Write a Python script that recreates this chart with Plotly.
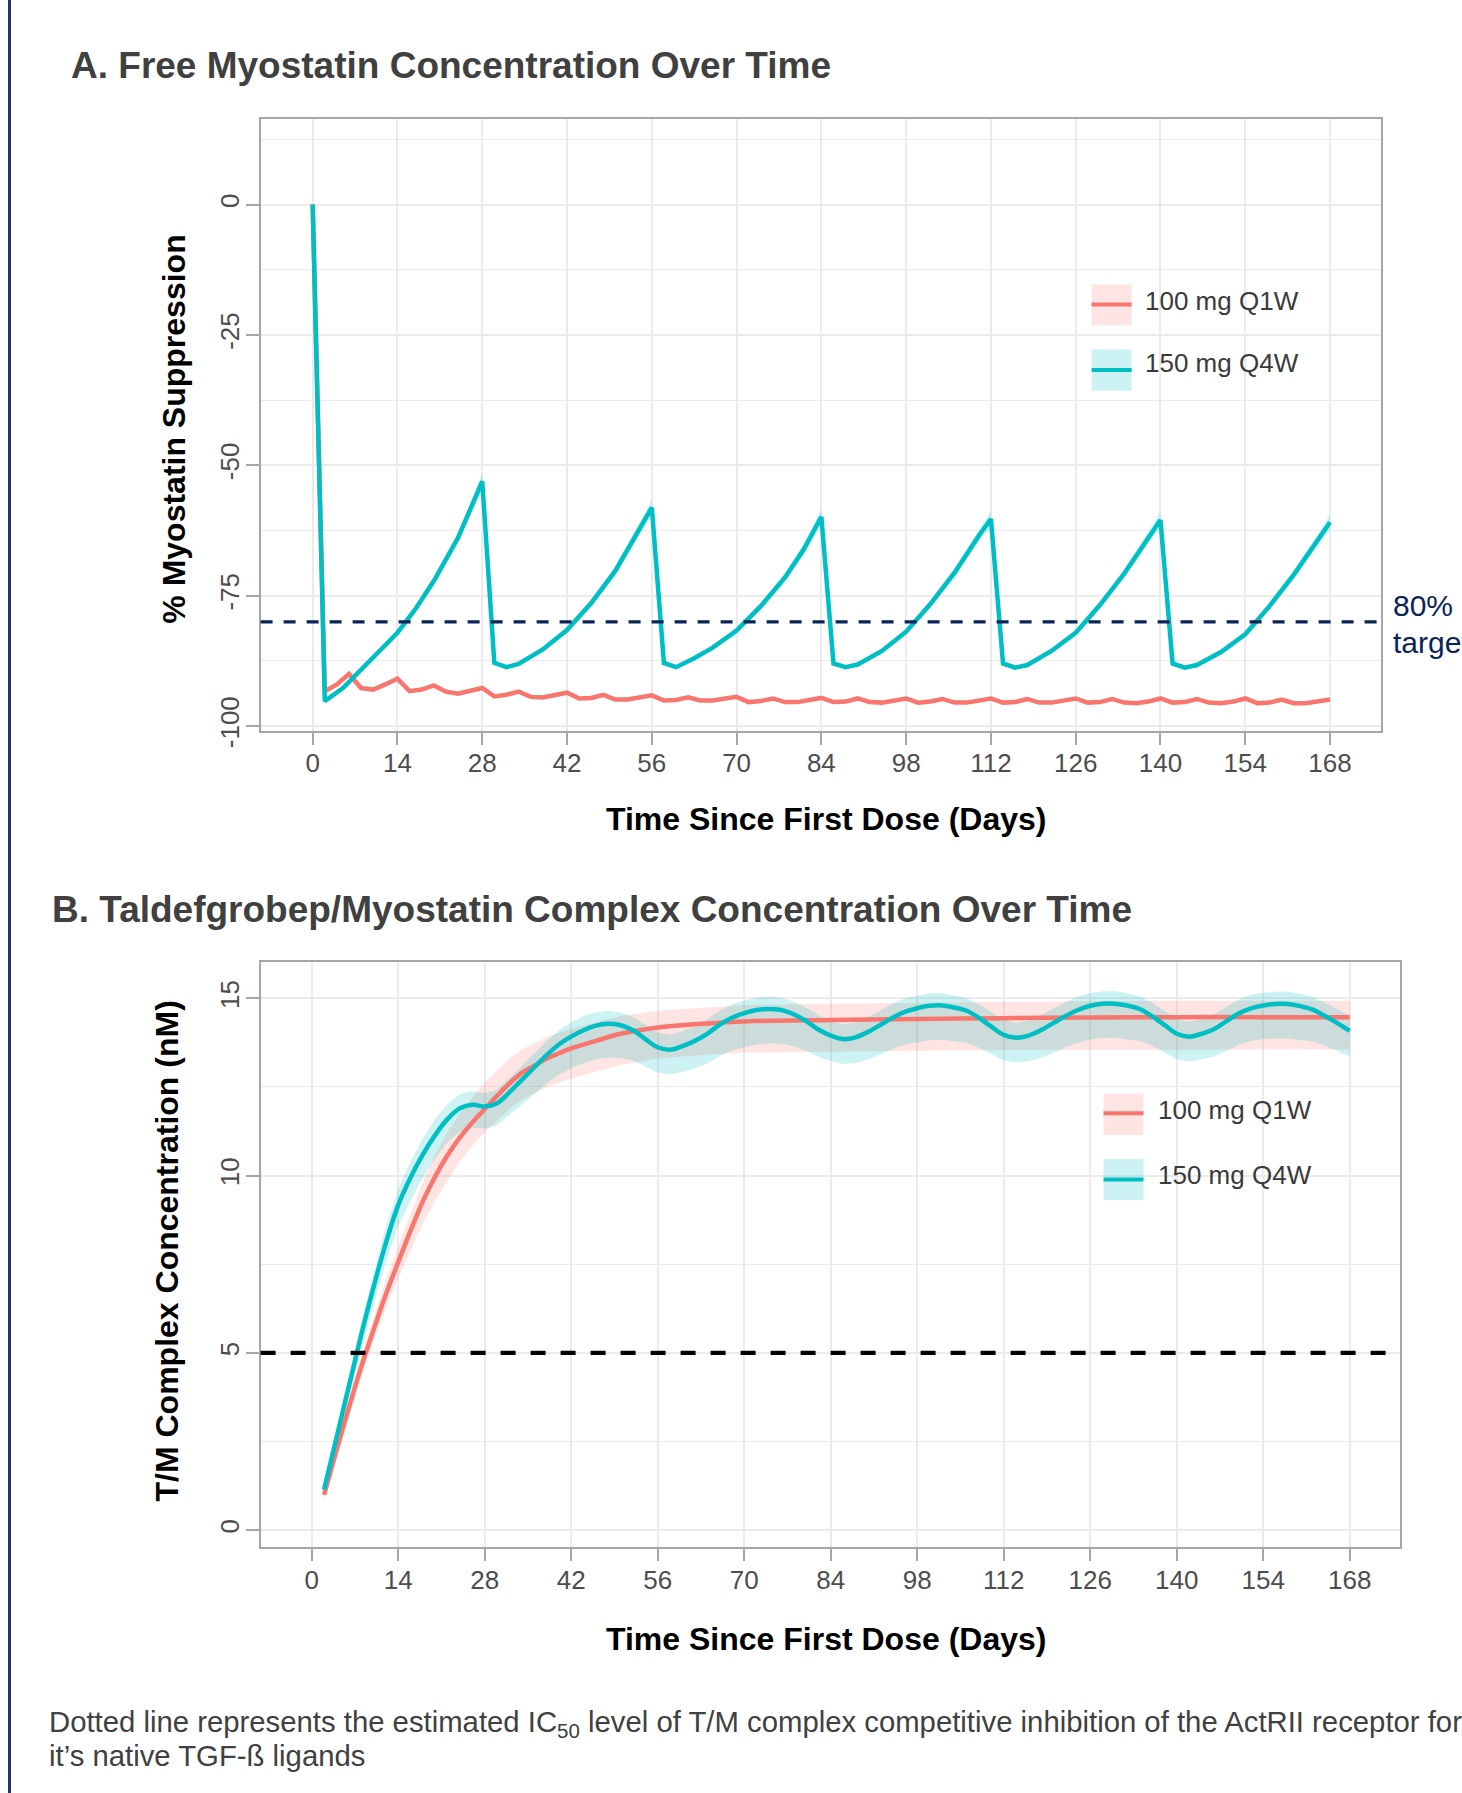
import plotly.graph_objects as go

W, H = 1462, 1793          # target picture size (paper mapping)
H_FIG = 1814               # page height that is captured into the 1793-px picture
FONT = "Liberation Sans, Arial, Helvetica, sans-serif"
RED = "#F8766D"
CYAN = "#00BFC4"
RED_FILL = "rgba(248,118,109,0.2)"
CYAN_FILL = "rgba(0,191,196,0.2)"
NAVY = "#0A2457"


def px(x):
    return x / W


def py(y):
    return 1 - y / H


# ---------------- Panel A data: % Myostatin suppression ----------------
x_ticks = [0, 14, 28, 42, 56, 70, 84, 98, 112, 126, 140, 154, 168]
a_y_ticks = [0, -25, -50, -75, -100]
b_y_ticks = [0, 5, 10, 15]

a_cyan_days = [0, 2, 5, 7, 10, 14, 17, 20, 24, 26, 28,
               30, 32, 34, 38, 42, 46, 50, 53, 56,
               58, 60, 63, 66, 70, 74, 78, 81, 84,
               86, 88, 90, 94, 98, 102, 106, 110, 112,
               114, 116, 118, 122, 126, 130, 134, 138, 140,
               142, 144, 146, 150, 154, 158, 162, 166, 168]
a_cyan_vals = [0, -95.2, -92.7, -90.4, -86.9, -82.1, -77.5, -72.2, -63.9, -58.7, -53.1,
               -87.9, -88.7, -88.1, -85.3, -81.6, -76.4, -70.2, -64.2, -58.1,
               -87.9, -88.7, -87.0, -85.0, -81.7, -77.0, -71.5, -66.3, -59.9,
               -88.0, -88.7, -88.2, -85.6, -81.9, -76.6, -70.6, -63.5, -60.3,
               -88.0, -88.8, -88.3, -85.6, -82.1, -76.8, -70.8, -63.8, -60.5,
               -88.0, -88.8, -88.3, -85.8, -82.4, -77.0, -71.0, -64.3, -60.9]
a_cyan_band = [0.0, 0.3, 0.35, 0.4, 0.5, 0.6, 0.7, 0.85, 1.1, 1.3, 1.6,
               0.35, 0.35, 0.4, 0.5, 0.6, 0.75, 0.95, 1.15, 1.5,
               0.35, 0.35, 0.4, 0.5, 0.6, 0.75, 0.95, 1.15, 1.5,
               0.35, 0.35, 0.4, 0.5, 0.6, 0.75, 0.95, 1.15, 1.5,
               0.35, 0.35, 0.4, 0.5, 0.6, 0.75, 0.95, 1.15, 1.5,
               0.35, 0.35, 0.4, 0.5, 0.6, 0.75, 0.95, 1.15, 1.5]

a_red_days = list(range(0, 169, 2))
a_red_vals = [0, -93.3, -92.0, -90.0, -92.7, -93.0, -92.0, -90.9, -93.3, -93.0,
              -92.2, -93.4, -93.8, -93.3, -92.7, -94.3, -94.0, -93.4, -94.4, -94.5,
              -94.1, -93.6, -94.7, -94.6, -94.0, -94.9, -94.9, -94.6, -94.1, -95.1,
              -95.0, -94.5, -95.1, -95.1, -94.8, -94.4, -95.4, -95.2, -94.7, -95.4,
              -95.4, -95.0, -94.6, -95.4, -95.3, -94.7, -95.4, -95.5, -95.2, -94.7,
              -95.5, -95.3, -94.8, -95.5, -95.5, -95.2, -94.7, -95.5, -95.4, -94.8,
              -95.5, -95.5, -95.2, -94.7, -95.5, -95.4, -94.8, -95.5, -95.6, -95.3,
              -94.7, -95.5, -95.4, -94.8, -95.5, -95.6, -95.3, -94.7, -95.6, -95.5,
              -94.9, -95.6, -95.6, -95.3, -94.9]

a_target = -80

# ---------------- Panel B data: T/M complex concentration ----------------
b_cyan_days = list(range(2, 169, 2))
b_cyan_vals = [1.15, 2.6, 4.05, 5.5, 6.85, 8.1, 9.17, 9.95, 10.6, 11.15,
               11.6, 11.9, 12.0, 11.95, 12.04, 12.35, 12.7, 13.05, 13.4, 13.7,
               13.92, 14.1, 14.23, 14.28, 14.24, 14.1, 13.85, 13.62, 13.55, 13.65,
               13.8, 14.0, 14.25, 14.45, 14.58, 14.67, 14.70, 14.67, 14.55, 14.36,
               14.12, 13.95, 13.85, 13.9, 14.05, 14.25, 14.45, 14.62, 14.72, 14.79,
               14.80, 14.74, 14.65, 14.45, 14.2, 13.97, 13.89, 13.95, 14.1, 14.3,
               14.5, 14.67, 14.79, 14.85, 14.85, 14.8, 14.7, 14.5, 14.25, 14.0,
               13.92, 14.0, 14.13, 14.35, 14.57, 14.72, 14.8, 14.84, 14.84, 14.78,
               14.68, 14.5, 14.3, 14.08]
b_cyan_up = [0.1, 0.2, 0.3, 0.35, 0.4, 0.45, 0.45, 0.45, 0.45, 0.45,
             0.42, 0.4, 0.38, 0.38, 0.38, 0.4, 0.4, 0.4, 0.4, 0.4,
             0.4, 0.4, 0.38, 0.36, 0.36, 0.38, 0.4, 0.42, 0.42, 0.42,
             0.42, 0.41, 0.4, 0.38, 0.36, 0.35, 0.35, 0.35, 0.36, 0.38,
             0.4, 0.42, 0.42, 0.42, 0.42, 0.41, 0.4, 0.38, 0.36, 0.35,
             0.35, 0.35, 0.36, 0.38, 0.4, 0.42, 0.42, 0.42, 0.42, 0.41,
             0.4, 0.38, 0.36, 0.35, 0.35, 0.35, 0.36, 0.38, 0.4, 0.42,
             0.42, 0.42, 0.42, 0.41, 0.4, 0.38, 0.36, 0.35, 0.35, 0.35,
             0.36, 0.38, 0.4, 0.42]
b_cyan_dn = [0.15, 0.25, 0.35, 0.45, 0.5, 0.55, 0.6, 0.65, 0.65, 0.65,
             0.65, 0.65, 0.65, 0.62, 0.62, 0.65, 0.7, 0.75, 0.8, 0.85,
             0.9, 0.92, 0.95, 0.95, 0.92, 0.85, 0.78, 0.72, 0.7, 0.72,
             0.78, 0.84, 0.88, 0.92, 0.95, 0.97, 0.97, 0.95, 0.9, 0.84,
             0.77, 0.72, 0.7, 0.72, 0.78, 0.84, 0.88, 0.92, 0.95, 0.97,
             0.97, 0.95, 0.9, 0.84, 0.77, 0.72, 0.7, 0.72, 0.78, 0.84,
             0.88, 0.92, 0.95, 0.97, 0.97, 0.95, 0.9, 0.84, 0.77, 0.72,
             0.7, 0.72, 0.78, 0.84, 0.88, 0.92, 0.95, 0.97, 0.97, 0.95,
             0.9, 0.84, 0.78, 0.72]

b_red_days = [2, 4, 6, 8, 10, 12, 14, 16, 18, 20, 22, 24, 26, 28, 30, 32, 34, 36, 38, 40, 42,
              46, 50, 56, 63, 70, 84, 98, 112, 126, 140, 154, 168]
b_red_vals = [1.0, 2.25, 3.45, 4.6, 5.65, 6.65, 7.56, 8.45, 9.28, 9.98, 10.58, 11.08, 11.5,
              11.88, 12.25, 12.6, 12.9, 13.1, 13.3, 13.45, 13.59,
              13.8, 14.0, 14.18, 14.28, 14.35, 14.39, 14.42, 14.44, 14.46, 14.47, 14.47, 14.47]
b_red_up = [0.1, 0.18, 0.25, 0.3, 0.35, 0.4, 0.45, 0.5, 0.55, 0.6, 0.65, 0.68, 0.72, 0.75,
            0.72, 0.7, 0.65, 0.62, 0.6, 0.57, 0.55,
            0.52, 0.5, 0.47, 0.46, 0.46, 0.46, 0.46, 0.46, 0.46, 0.46, 0.46, 0.46]
b_red_dn = [0.15, 0.22, 0.28, 0.3, 0.33, 0.38, 0.45, 0.55, 0.62, 0.68, 0.7, 0.68, 0.66, 0.66,
            0.7, 0.72, 0.75, 0.78, 0.8, 0.83, 0.85,
            0.87, 0.88, 0.88, 0.88, 0.88, 0.9, 0.9, 0.9, 0.91, 0.91, 0.91, 0.91]

b_ic50 = 5

series_names = ["100 mg Q1W", "150 mg Q4W"]


def band(days, lo, hi, color, xa, ya):
    return go.Scatter(x=list(days) + list(days)[::-1], y=list(hi) + list(lo)[::-1],
                      fill="toself", fillcolor=color, line=dict(width=0), mode="lines",
                      hoverinfo="skip", showlegend=False, xaxis=xa, yaxis=ya)


fig = go.Figure()

# Panel A
fig.add_trace(band(a_cyan_days,
                   [v - b for v, b in zip(a_cyan_vals, a_cyan_band)],
                   [v + b for v, b in zip(a_cyan_vals, a_cyan_band)],
                   CYAN_FILL, "x", "y"))
fig.add_trace(go.Scatter(x=a_red_days, y=a_red_vals, mode="lines", name=series_names[0],
                         line=dict(color=RED, width=4.5), xaxis="x", yaxis="y"))
fig.add_trace(go.Scatter(x=a_cyan_days, y=a_cyan_vals, mode="lines", name=series_names[1],
                         line=dict(color=CYAN, width=4.5), xaxis="x", yaxis="y"))

# Panel B
fig.add_trace(band(b_red_days,
                   [v - d for v, d in zip(b_red_vals, b_red_dn)],
                   [v + u for v, u in zip(b_red_vals, b_red_up)],
                   RED_FILL, "x2", "y2"))
fig.add_trace(band(b_cyan_days,
                   [v - d for v, d in zip(b_cyan_vals, b_cyan_dn)],
                   [v + u for v, u in zip(b_cyan_vals, b_cyan_up)],
                   CYAN_FILL, "x2", "y2"))
fig.add_trace(go.Scatter(x=b_red_days, y=b_red_vals, mode="lines", name=series_names[0],
                         line=dict(color=RED, width=4.5, shape="spline"), xaxis="x2", yaxis="y2"))
fig.add_trace(go.Scatter(x=b_cyan_days, y=b_cyan_vals, mode="lines", name=series_names[1],
                         line=dict(color=CYAN, width=4.5, shape="spline"), xaxis="x2", yaxis="y2"))


def axis_common():
    return dict(showline=True, mirror=True, linecolor="#A6A6A6", linewidth=1.5,
                ticks="outside", ticklen=13, tickwidth=1.5, tickcolor="#A6A6A6",
                ticklabelstandoff=-4,
                showgrid=True, gridcolor="#EBEBEB", gridwidth=1.5, zeroline=False,
                tickfont=dict(size=26, color="#4D4D4D", family=FONT))


xa = axis_common()
xa.update(domain=[px(260.6), px(1380.9)], range=[-8.6, 176.4], tickmode="array",
          tickvals=x_ticks, ticktext=[str(t) for t in x_ticks], anchor="y")
ya = axis_common()
ya.update(domain=[py(729.3), py(118.9)], range=[-100.85, 16.38], tickmode="array",
          tickvals=a_y_ticks, ticktext=[str(t) for t in a_y_ticks], tickangle=-90, anchor="x",
          minor=dict(dtick=12.5, tick0=0, showgrid=True, gridcolor="#EBEBEB", gridwidth=1, ticks=""))
xb = axis_common()
xb.update(domain=[px(260.6), px(1400.3)], range=[-8.27, 176.18], tickmode="array",
          tickvals=x_ticks, ticktext=[str(t) for t in x_ticks], anchor="y2")
yb = axis_common()
yb.update(domain=[py(1544), py(960.2)], range=[-0.46, 16.03], tickmode="array",
          tickvals=b_y_ticks, ticktext=[str(t) for t in b_y_ticks], tickangle=-90, anchor="x2",
          minor=dict(dtick=2.5, tick0=0, showgrid=True, gridcolor="#EBEBEB", gridwidth=1, ticks=""))

shapes = [
    # left navy rule
    dict(type="line", xref="paper", yref="paper", x0=px(9.5), x1=px(9.5), y0=0, y1=1,
         line=dict(color="#203864", width=3)),
    # 80% target dashed line
    dict(type="line", xref="x domain", yref="y", x0=0, x1=1, y0=a_target, y1=a_target,
         line=dict(color=NAVY, width=3.3, dash="12px,11px")),
    # IC50 dashed line
    dict(type="line", xref="x2 domain", yref="y2", x0=0, x1=1, y0=b_ic50, y1=b_ic50,
         line=dict(color="black", width=4.3, dash="15px,15px")),
]

annotations = []


def text(x, y, s, size, color, bold=False, xanchor="left", angle=0):
    annotations.append(dict(x=px(x), y=py(y), xref="paper", yref="paper", text=s,
                            showarrow=False, xanchor=xanchor, yanchor="middle",
                            textangle=angle,
                            font=dict(family=FONT, size=size, color=color,
                                      weight="bold" if bold else "normal")))


def legend_key(x0, y0, y_line, fill, color):
    shapes.append(dict(type="rect", xref="paper", yref="paper", x0=px(x0), x1=px(x0 + 40),
                       y0=py(y0 + 41), y1=py(y0), fillcolor=fill, line=dict(width=0)))
    shapes.append(dict(type="line", xref="paper", yref="paper", x0=px(x0), x1=px(x0 + 40),
                       y0=py(y_line), y1=py(y_line), line=dict(color=color, width=4)))


# Legend A
legend_key(1091.6, 284, 304, RED_FILL, RED)
legend_key(1091.6, 349, 369.3, CYAN_FILL, CYAN)
text(1143, 300, series_names[0], 26, "#3A3A3A")
text(1143, 362.5, series_names[1], 26, "#3A3A3A")
# Legend B
legend_key(1103.5, 1092, 1111.5, RED_FILL, RED)
legend_key(1103.5, 1157, 1177.5, CYAN_FILL, CYAN)
text(1156, 1108.5, series_names[0], 26, "#3A3A3A")
text(1156, 1173.5, series_names[1], 26, "#3A3A3A")

# Titles
text(68.6, 65.3, "A. Free Myostatin Concentration Over Time", 37, "#404040", bold=True)
text(50, 908, "B. Taldefgrobep/Myostatin Complex Concentration Over Time", 37, "#404040", bold=True)

# Axis titles
text(826, 817.5, "Time Since First Dose (Days)", 32, "black", bold=True, xanchor="center")
text(174, 429, "% Myostatin Suppression", 32, "black", bold=True, xanchor="center", angle=-90)
text(826, 1636, "Time Since First Dose (Days)", 32, "black", bold=True, xanchor="center")
text(167, 1249.4, "T/M Complex Concentration (nM)", 32, "black", bold=True, xanchor="center", angle=-90)

# Target label
text(1391, 604, "80%", 30, NAVY)
text(1391, 641, "target", 30, NAVY)

# Caption
text(47, 1720.5, "Dotted line represents the estimated IC<sub>50</sub> level of T/M complex competitive "
     "inhibition of the ActRII receptor for", 29.3, "#404040")
text(47, 1753, "it\u2019s native TGF-\u00df ligands", 29.3, "#404040")

fig.update_layout(width=W, height=H_FIG, margin=dict(l=0, r=0, t=0, b=0),
                  paper_bgcolor="white", plot_bgcolor="white", showlegend=False,
                  font=dict(family=FONT),
                  xaxis=xa, yaxis=ya, xaxis2=xb, yaxis2=yb,
                  shapes=shapes, annotations=annotations)

fig.write_html("out.html", config={"displayModeBar": False},
               post_script="document.body.style.margin='0';")
